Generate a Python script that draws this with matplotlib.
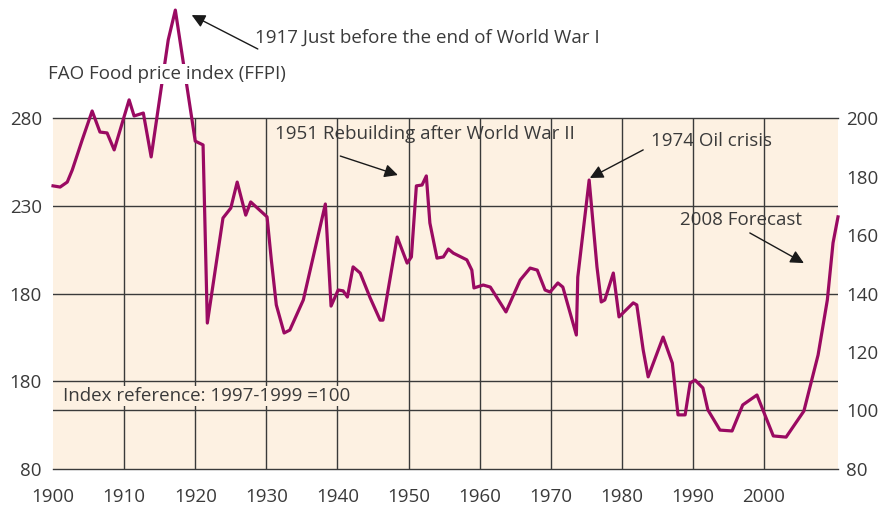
import matplotlib.pyplot as plt

plt.rcParams['font.family'] = ['Open Sans', 'DejaVu Sans']

# FAO food price index, yearly readings (right-hand scale)
years = [1900.0, 1901.0, 1902.0, 1902.7, 1904.1, 1905.5, 1906.6, 1907.6, 1908.6, 1910.7,
         1911.4, 1912.7, 1913.8, 1916.2, 1917.2, 1920.0, 1921.1, 1921.7, 1923.9, 1925.0,
         1925.9, 1927.1, 1927.8, 1930.1, 1930.7, 1931.4, 1932.5, 1933.3, 1935.2, 1938.3,
         1939.1, 1940.1, 1940.8, 1941.4, 1942.2, 1943.2, 1944.6, 1946.0, 1946.4, 1948.4,
         1949.8, 1950.4, 1951.1, 1951.9, 1952.5, 1953.0, 1954.0, 1954.9, 1955.6, 1956.3,
         1958.2, 1958.9, 1959.2, 1960.5, 1961.5, 1963.7, 1965.7, 1967.1, 1968.1, 1969.2,
         1969.9, 1971.0, 1971.7, 1973.6, 1973.8, 1975.4, 1976.5, 1977.1, 1977.6, 1978.8,
         1979.6, 1981.6, 1982.1, 1983.0, 1983.7, 1985.8, 1987.1, 1987.9, 1988.9, 1989.6,
         1990.3, 1991.4, 1992.1, 1993.8, 1995.5, 1997.0, 1999.0, 2001.3, 2003.1, 2005.6,
         2007.6, 2008.9, 2009.7, 2010.4]
ffpi = [176.8, 176.4, 178.1, 182.2, 192.5, 202.4, 195.2, 194.9, 189.1, 206.2,
        200.7, 201.7, 186.7, 226.7, 236.9, 192.1, 190.8, 129.9, 165.8, 169.2,
        178.1, 166.8, 171.3, 166.2, 151.5, 136.1, 126.5, 127.5, 137.8, 170.6,
        135.7, 141.2, 140.9, 138.8, 149.1, 147.0, 138.5, 130.9, 130.9, 159.3,
        150.4, 152.5, 176.8, 177.1, 180.2, 164.1, 152.1, 152.5, 155.2, 153.8,
        151.5, 148.0, 141.9, 142.9, 142.2, 133.7, 144.6, 148.7, 148.0, 141.2,
        140.5, 143.6, 142.2, 125.8, 145.6, 178.8, 149.1, 137.1, 137.8, 147.0,
        132.0, 136.8, 136.1, 120.7, 111.5, 125.1, 116.2, 98.5, 98.5, 109.4,
        110.4, 107.7, 100.2, 93.3, 93.0, 101.9, 105.3, 91.3, 90.9, 99.8,
        119.0, 137.8, 157.3, 166.2]

decades = [1900, 1910, 1920, 1930, 1940, 1950, 1960, 1970, 1980, 1990, 2000]
right_ticks = [80, 100, 120, 140, 160, 180, 200]
left_ticks = [80, 110, 140, 170, 200]
left_labels = ['80', '180', '180', '230', '280']

text_col = '#3a3a3a'
grid_col = '#3a3a3a'
line_col = '#9a0a62'
bg_col = '#fdf1e2'
fs = 13.5

fig = plt.figure(figsize=(8.81, 5.12), dpi=100)
ax = fig.add_axes([0.0602, 0.084, 0.891, 0.6855])
ax.set_facecolor(bg_col)
ax.set_xlim(1900, 2010.4)
ax.set_ylim(80, 200)

for s in ['left', 'right']:
    ax.spines[s].set_visible(False)
for s in ['top', 'bottom']:
    ax.spines[s].set_color(grid_col)
    ax.spines[s].set_linewidth(1.0)

ax.set_xticks(decades)
ax.set_xticklabels([str(d) for d in decades])
ax.set_yticks(left_ticks)
ax.set_yticklabels(left_labels)
ax.tick_params(axis='x', length=0, pad=14, labelsize=fs, colors=text_col)
ax.tick_params(axis='y', length=0, pad=8, labelsize=fs, colors=text_col)

# grid: decades vertically, left-scale ticks plus the 100 reference line
for d in decades[1:]:
    ax.axvline(d, color=grid_col, lw=1.0, zorder=1)
for v in left_ticks[1:-1] + [100]:
    ax.axhline(v, color=grid_col, lw=1.0, zorder=1)

ax2 = ax.twinx()
ax2.set_ylim(80, 200)
ax2.set_yticks(right_ticks)
ax2.tick_params(axis='y', length=0, pad=6, labelsize=fs, colors=text_col)
for s in ax2.spines.values():
    s.set_visible(False)

ax.plot(years, ffpi, color=line_col, lw=2.3, solid_joinstyle='round',
        clip_on=False, zorder=5)

# series title sits on a white patch that knocks out the line behind it
ax.text(1899.3, 215.0, 'FAO Food price index (FFPI)', fontsize=fs, color=text_col,
        ha='left', va='center', zorder=7, clip_on=False,
        bbox=dict(facecolor='white', edgecolor='none', pad=1))
ax.text(1901.4, 105.0, 'Index reference: 1997-1999 =100', fontsize=fs, color=text_col,
        ha='left', va='center', zorder=3,
        bbox=dict(facecolor=bg_col, edgecolor='none', pad=1))

notes = [
    ('1917 Just before the end of World War I', (1928.4, 227.4), (1928.8, 223.6), (1919.5, 235.2)),
    ('1951 Rebuilding after World War II', (1931.2, 194.5), (1940.4, 187.0), (1948.5, 180.5)),
    ('1974 Oil crisis', (1984.1, 192.1), (1983.0, 189.1), (1975.5, 179.5)),
    ('2008 Forecast', (1988.2, 165.1), (1998.0, 160.7), (2005.6, 150.4)),
]
for label, pos, tail, tip in notes:
    ax.text(pos[0], pos[1], label, fontsize=fs, color=text_col, ha='left', va='center',
            zorder=6, clip_on=False)
    ax.annotate('', xy=tip, xytext=tail, annotation_clip=False, zorder=6,
                arrowprops=dict(arrowstyle='-|>', color='#1a1a1a', lw=1.0,
                                mutation_scale=20, shrinkA=0, shrinkB=0))

fig.savefig('out.png', dpi=100)
